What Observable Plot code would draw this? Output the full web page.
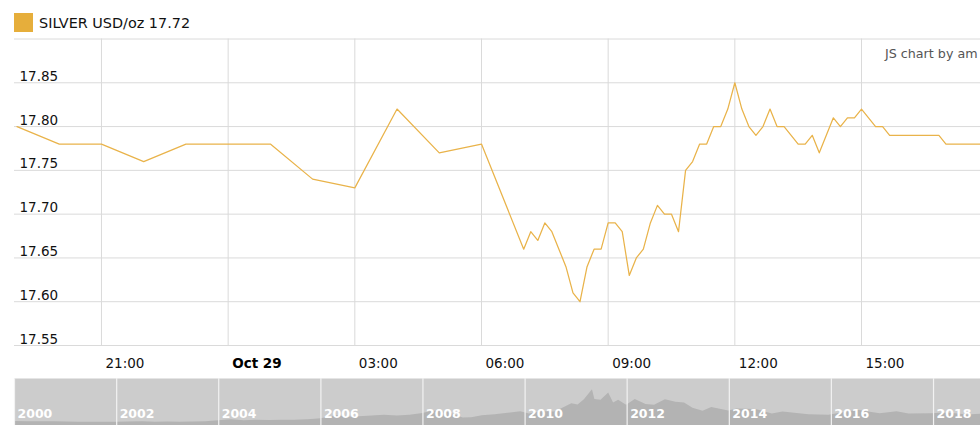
<!DOCTYPE html>
<html>
<head>
<meta charset="utf-8">
<script src="https://cdn.jsdelivr.net/npm/d3@7"></script>
<script src="https://cdn.jsdelivr.net/npm/@observablehq/plot@0.6"></script>
<style>
  html, body { margin: 0; padding: 0; background: #fff; overflow: hidden; }
  body { font-family: "DejaVu Sans", Verdana, sans-serif; }
  #wrap { position: relative; width: 980px; height: 430px; overflow: hidden; }
  #legend { position: relative; height: 38px; }
  #swatch { position: absolute; left: 14px; top: 13px; width: 19px; height: 19px; background: #e6ae3b; }
  #legtext { position: absolute; left: 39px; top: 16.3px; font-size: 14.4px; line-height: 14px; color: #111; white-space: nowrap; }
  #credit { position: absolute; left: 885px; top: 47.8px; font-size: 12.7px; line-height: 12px; color: #555; white-space: nowrap; }
  svg { display: block; }
</style>
</head>
<body>
<div id="wrap">
  <div id="legend"><div id="swatch"></div><div id="legtext"></div></div>
  <div id="main"></div>
  <div id="scroll"></div>
  <div id="credit"></div>
</div>
<script>
// ---- Legend / credit ----
const seriesName = "SILVER USD/oz";
const lastValue = 17.72;
const creditText = "JS chart by am";

// ---- Main series (UTC) ----
const times = [
  "2019-10-28T19:00Z","2019-10-28T20:00Z","2019-10-28T21:00Z","2019-10-28T22:00Z","2019-10-28T23:00Z",
  "2019-10-29T00:00Z","2019-10-29T01:00Z","2019-10-29T02:00Z","2019-10-29T03:00Z","2019-10-29T04:00Z",
  "2019-10-29T05:00Z","2019-10-29T06:00Z","2019-10-29T07:00Z",
  "2019-10-29T07:10Z","2019-10-29T07:20Z","2019-10-29T07:30Z","2019-10-29T07:40Z","2019-10-29T07:50Z",
  "2019-10-29T08:00Z","2019-10-29T08:10Z","2019-10-29T08:20Z","2019-10-29T08:30Z","2019-10-29T08:40Z","2019-10-29T08:50Z",
  "2019-10-29T09:00Z","2019-10-29T09:10Z","2019-10-29T09:20Z","2019-10-29T09:30Z","2019-10-29T09:40Z","2019-10-29T09:50Z",
  "2019-10-29T10:00Z","2019-10-29T10:10Z","2019-10-29T10:20Z","2019-10-29T10:30Z","2019-10-29T10:40Z","2019-10-29T10:50Z",
  "2019-10-29T11:00Z","2019-10-29T11:10Z","2019-10-29T11:20Z","2019-10-29T11:30Z","2019-10-29T11:40Z","2019-10-29T11:50Z",
  "2019-10-29T12:00Z","2019-10-29T12:10Z","2019-10-29T12:20Z","2019-10-29T12:30Z","2019-10-29T12:40Z","2019-10-29T12:50Z",
  "2019-10-29T13:00Z","2019-10-29T13:10Z","2019-10-29T13:20Z","2019-10-29T13:30Z","2019-10-29T13:40Z","2019-10-29T13:50Z",
  "2019-10-29T14:00Z","2019-10-29T14:10Z","2019-10-29T14:20Z","2019-10-29T14:30Z","2019-10-29T14:40Z","2019-10-29T14:50Z",
  "2019-10-29T15:00Z","2019-10-29T15:10Z","2019-10-29T15:20Z","2019-10-29T15:30Z","2019-10-29T15:40Z","2019-10-29T15:50Z",
  "2019-10-29T16:00Z","2019-10-29T16:10Z","2019-10-29T16:20Z","2019-10-29T16:30Z","2019-10-29T16:40Z","2019-10-29T16:50Z",
  "2019-10-29T17:00Z","2019-10-29T17:10Z","2019-10-29T17:20Z","2019-10-29T17:30Z","2019-10-29T17:40Z","2019-10-29T17:50Z"
];
const prices = [
  17.80,17.78,17.78,17.76,17.78,
  17.78,17.78,17.74,17.73,17.82,
  17.77,17.78,17.66,
  17.68,17.67,17.69,17.68,17.66,
  17.64,17.61,17.60,17.64,17.66,17.66,
  17.69,17.69,17.68,17.63,17.65,17.66,
  17.69,17.71,17.70,17.70,17.68,17.75,
  17.76,17.78,17.78,17.80,17.80,17.82,
  17.85,17.82,17.80,17.79,17.80,17.82,
  17.80,17.80,17.79,17.78,17.78,17.79,
  17.77,17.79,17.81,17.80,17.81,17.81,
  17.82,17.81,17.80,17.80,17.79,17.79,
  17.79,17.79,17.79,17.79,17.79,17.79,
  17.78,17.78,17.78,17.78,17.78,17.78
];

// ---- Axes ----
const xDomain = ["2019-10-28T18:56:24Z", "2019-10-29T17:49:06Z"];
const xTickTimes = ["2019-10-28T21:00Z","2019-10-29T00:00Z","2019-10-29T03:00Z","2019-10-29T06:00Z",
                    "2019-10-29T09:00Z","2019-10-29T12:00Z","2019-10-29T15:00Z"];
const xTickLabels = ["21:00","Oct 29","03:00","06:00","09:00","12:00","15:00"];
const xTickBold = [false,true,false,false,false,false,false];
const yGrid = [17.55,17.60,17.65,17.70,17.75,17.80,17.85,17.90];
const yTickLabels = ["17.55","17.60","17.65","17.70","17.75","17.80","17.85"];

// ---- Scroller (history) ----
const histDates = [
  "2000-01-01","2000-04-01","2000-07-01","2000-10-01","2001-01-01","2001-04-01","2001-07-01","2001-10-01",
  "2002-01-01","2002-04-01","2002-07-01","2002-10-01","2003-01-01","2003-04-01","2003-07-01","2003-10-01",
  "2004-01-01","2004-04-01","2004-07-01","2004-10-01","2005-01-01","2005-04-01","2005-07-01","2005-10-01",
  "2006-01-01","2006-05-01","2006-07-01","2006-10-01","2007-01-01","2007-04-01","2007-07-01","2007-10-01",
  "2008-01-01","2008-03-15","2008-07-01","2008-10-15","2008-12-15","2009-03-01","2009-06-01","2009-09-01",
  "2009-12-01","2010-02-01","2010-05-01","2010-08-01","2010-10-01","2010-12-01","2011-01-15","2011-03-01",
  "2011-04-28","2011-05-15","2011-06-28","2011-08-22","2011-09-26","2011-11-01","2011-12-28","2012-02-28",
  "2012-05-15","2012-07-15","2012-10-01","2012-12-15","2013-02-15","2013-04-16","2013-06-27","2013-08-28",
  "2013-12-28","2014-02-24","2014-07-10","2014-11-05","2015-01-20","2015-07-24","2015-12-15","2016-07-05",
  "2016-12-15","2017-04-15","2017-07-10","2017-12-15","2018-04-15","2018-09-01","2018-12-31","2019-06-01",
  "2019-09-04","2019-10-29"
];
const histValues = [
  5.3,5.0,5.0,4.9,4.6,4.4,4.3,4.3,
  4.5,4.6,4.9,4.5,4.8,4.5,4.8,5.0,
  6.3,7.6,6.4,7.2,6.7,7.1,7.0,7.6,
  9.0,13.5,11.2,11.8,12.9,13.8,12.9,13.7,
  16.0,19.5,17.5,10.0,10.5,13.0,14.5,16.5,
  18.5,15.5,18.5,18.2,23.5,29.0,27.5,34.5,
  48.0,35.0,34.0,43.5,30.0,34.0,27.0,35.0,
  28.0,27.0,34.5,31.0,30.0,23.0,19.0,24.0,
  19.5,22.0,21.5,15.5,18.0,14.5,13.8,20.5,
  15.9,18.5,15.3,15.9,16.7,14.2,15.5,14.6,
  19.5,17.7
];
const yearTicks = ["2000","2002","2004","2006","2008","2010","2012","2014","2016","2018"];
const scrollDomain = ["2000-01-01", "2018-12-03"];

// ---- Build ----
document.getElementById("legtext").textContent = `${seriesName} ${lastValue.toFixed(2)}`;
document.getElementById("credit").textContent = creditText;

const series = times.map((t, i) => ({t: new Date(t), v: prices[i]}));
const xTicks = xTickTimes.map((t, i) => ({t: new Date(t), label: xTickLabels[i], bold: xTickBold[i]}));
const yLabels = yTickLabels.map(s => ({v: +s, label: s}));

const gridColor = "#dadada";
const axisFont = 13.5;
const main = Plot.plot({
  width: 980, height: 340,
  marginLeft: 14, marginRight: 0, marginTop: 0.5, marginBottom: 33,
  style: {fontFamily: "'DejaVu Sans', Verdana, sans-serif", color: "#111", background: "white", overflow: "visible"},
  x: {type: "utc", domain: xDomain.map(d => new Date(d)), axis: null},
  y: {domain: [17.55, 17.90], axis: null},
  marks: [
    Plot.ruleY(yGrid, {y: d => d, stroke: gridColor, strokeWidth: 1}),
    Plot.ruleX(xTicks, {x: "t", stroke: gridColor, strokeWidth: 1}),
    Plot.line(series, {x: "t", y: "v", stroke: "#e9b34a", strokeWidth: 1.25, clip: true}),
    Plot.text(yLabels, {y: "v", text: "label", frameAnchor: "left", textAnchor: "start", lineAnchor: "bottom",
      dx: 5, dy: -2, fontSize: axisFont, fill: "#111"}),
    Plot.text(xTicks.filter(d => !d.bold), {x: "t", text: "label", frameAnchor: "bottom", textAnchor: "start",
      lineAnchor: "bottom", dx: 4, dy: 22, fontSize: axisFont, fill: "#111"}),
    Plot.text(xTicks.filter(d => d.bold), {x: "t", text: "label", frameAnchor: "bottom", textAnchor: "start",
      lineAnchor: "bottom", dx: 4, dy: 22, fontSize: axisFont, fontWeight: "bold", fill: "#000"})
  ]
});
document.getElementById("main").appendChild(main);

const hist = histDates.map((d, i) => ({t: new Date(d), v: histValues[i]}));
const years = yearTicks.map(y => ({t: new Date(y + "-01-01"), label: y}));

const scroll = Plot.plot({
  width: 980, height: 47,
  marginLeft: 14, marginRight: 0, marginTop: 0, marginBottom: 0,
  style: {fontFamily: "'DejaVu Sans', Verdana, sans-serif", background: "white"},
  x: {type: "utc", domain: scrollDomain.map(d => new Date(d)), axis: null},
  y: {domain: [0, 63], axis: null},
  marks: [
    Plot.frame({fill: "#cccccc", stroke: "none"}),
    Plot.areaY(hist, {x: "t", y: "v", fill: "#b3b3b3", curve: "linear", clip: true}),
    Plot.ruleX(years, {x: "t", stroke: "#f2f2f2", strokeWidth: 1.2}),
    Plot.text(years, {x: "t", text: "label", frameAnchor: "bottom", textAnchor: "start", lineAnchor: "bottom",
      dx: 3, dy: -8, fontSize: 12.5, fontWeight: "bold", fill: "white"})
  ]
});
document.getElementById("scroll").appendChild(scroll);
</script>
</body>
</html>
